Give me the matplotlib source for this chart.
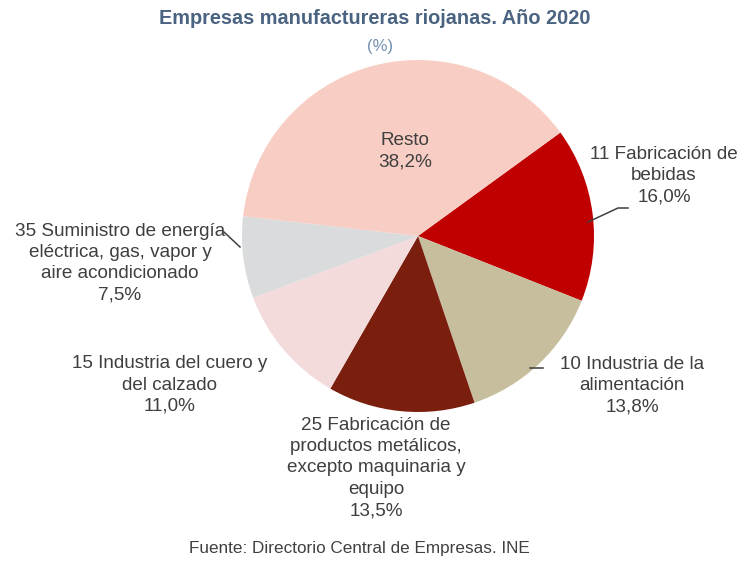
import matplotlib
matplotlib.use("Agg")
import matplotlib.pyplot as plt

# datos: empresas manufactureras riojanas 2020 (%)
sectores = ["11 Fabricación de\nbebidas",
            "10 Industria de la\nalimentación",
            "25 Fabricación de\nproductos metálicos,\nexcepto maquinaria y\nequipo",
            "15 Industria del cuero y\ndel calzado",
            "35 Suministro de energía\neléctrica, gas, vapor y\naire acondicionado",
            "Resto"]
porcentajes = [16.0, 13.8, 13.5, 11.0, 7.5, 38.2]
colores = ["#C00000", "#C7BE9E", "#7A1E0E", "#F3DADB", "#DADBDD", "#F8CDC3"]

plt.rcParams['font.family'] = ['Liberation Sans', 'DejaVu Sans']

fig = plt.figure(figsize=(7.46, 5.64), dpi=100)
ax = fig.add_axes([0, 0, 1, 1])

cx, cy, r = 418, 328, 176
ax.pie(porcentajes, colors=colores, startangle=36, counterclock=False,
       center=(cx, cy), radius=r, frame=True,
       wedgeprops=dict(linewidth=0))
ax.set_xlim(0, 746)
ax.set_ylim(0, 564)
ax.set_aspect('equal')
ax.axis('off')

# etiquetas (x, y en pixeles desde arriba)
pos_etiquetas = [(664, 176), (632, 386), (376, 468), (170, 385), (120, 263), (405, 151)]
gris = "#3F3F3F"
for nombre, valor, (x, y) in zip(sectores, porcentajes, pos_etiquetas):
    texto = nombre + "\n" + f"{valor:.1f}%".replace(".", ",")
    ax.text(x, 564 - y, texto, ha='center', va='center', fontsize=13.6,
            color=gris, linespacing=1.33)

# lineas guia
ax.plot([588, 618, 628], [564 - 222, 564 - 208, 564 - 208], color=gris, lw=1.1)
ax.plot([530, 543], [564 - 368, 564 - 368], color=gris, lw=1.1)
ax.plot([224, 240], [564 - 232, 564 - 247], color=gris, lw=1.1)

# titulo y fuente
fig.text(375 / 746, 1 - 18 / 564, "Empresas manufactureras riojanas. Año 2020",
         ha='center', va='center', fontsize=14.3, fontweight='bold', color="#4A6380")
fig.text(380 / 746, 1 - 46 / 564, "(%)", ha='center', va='center',
         fontsize=12, color="#7490B0")
fig.text(359 / 746, 1 - 548 / 564, "Fuente: Directorio Central de Empresas. INE",
         ha='center', va='center', fontsize=12.3, color="#404040")

fig.savefig("out.png", dpi=100)
